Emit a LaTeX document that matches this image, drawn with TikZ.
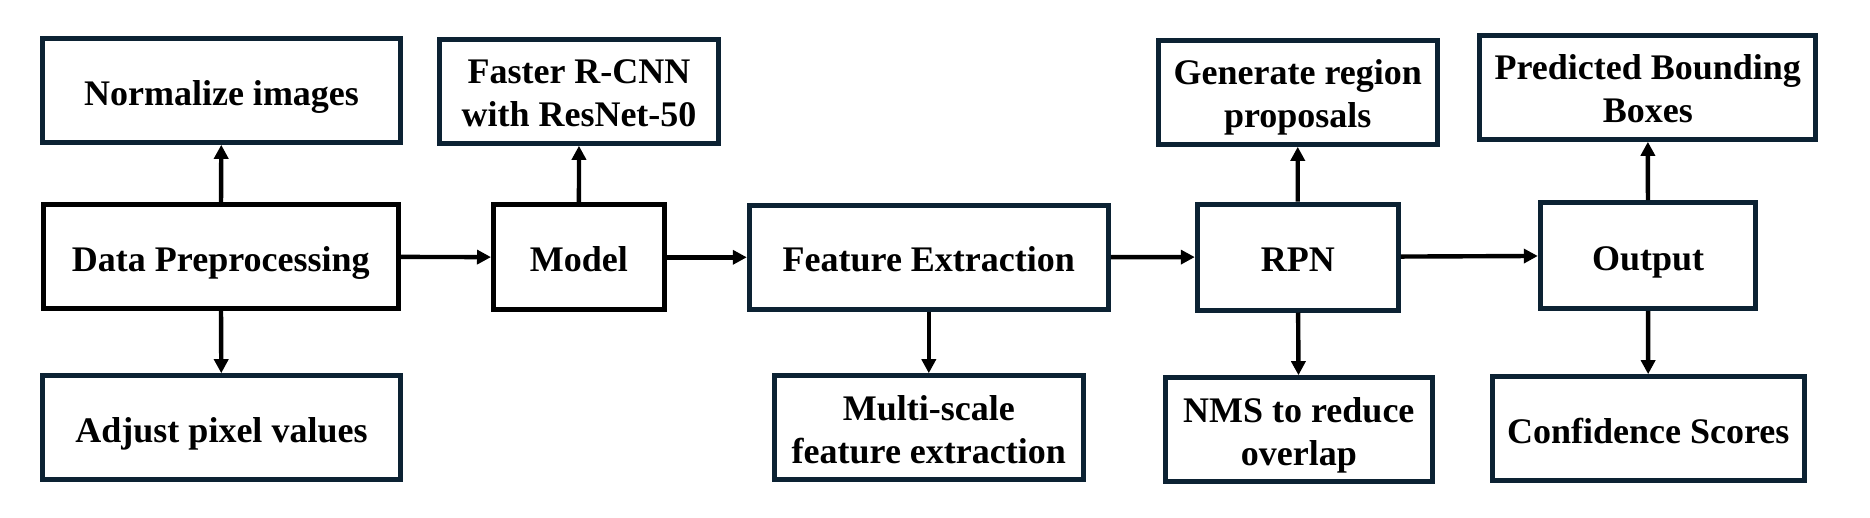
\documentclass[tikz,border=0pt]{standalone}
\usepackage{fontspec}
\setmainfont{Liberation Serif}
\usetikzlibrary{arrows.meta}
\definecolor{navy}{RGB}{12,34,51}
\begin{document}
\begin{tikzpicture}[x=1pt,y=-1pt,
  box/.style={draw=navy, line width=5pt, rectangle, inner sep=0pt, align=center,
    font=\fontsize{36}{43}\selectfont\bfseries, text height=29pt, text depth=0pt},
  mainbox/.style={box, draw=black},
  twoline/.style={text height=71pt, text depth=0pt},
  conn/.style={draw=black, line width=4.4pt, -{Triangle[length=14pt,width=14pt]}}]
\useasboundingbox (0,0) rectangle (1870,517);
\fill[white] (0,0) rectangle (1870,517);
% top row
\node[box, minimum width=358.4pt, minimum height=103.6pt] (norm) at (221.5,90.5) {Normalize images};
\node[box, twoline, minimum width=279.4pt, minimum height=104pt] (faster) at (579,91.3) {Faster R-CNN\\with ResNet-50};
\node[box, twoline, minimum width=279.3pt, minimum height=104pt] (gen) at (1297.7,92.3) {Generate region\\proposals};
\node[box, twoline, minimum width=335.7pt, minimum height=104pt] (pred) at (1647.8,87.3) {Predicted Bounding\\Boxes};
% middle row
\node[mainbox, minimum width=355pt, minimum height=103.6pt] (prep) at (220.8,256.5) {Data Preprocessing};
\node[mainbox, minimum width=170.8pt, minimum height=105.3pt] (model) at (578.9,257.3) {Model};
\node[box, minimum width=359pt, minimum height=104pt] (feat) at (928.8,257.3) {Feature Extraction};
\node[box, minimum width=201pt, minimum height=106pt] (rpn) at (1297.8,257) {RPN};
\node[box, minimum width=215.4pt, minimum height=105.6pt] (out) at (1648,255.5) {Output};
% bottom row
\node[box, minimum width=358.4pt, minimum height=103.6pt] (adj) at (221.5,427.5) {Adjust pixel values};
\node[box, twoline, minimum width=309pt, minimum height=103.6pt] (multi) at (928.8,427.5) {Multi-scale\\feature extraction};
\node[box, twoline, minimum width=267pt, minimum height=104pt] (nms) at (1298.8,429.7) {NMS to reduce\\overlap};
\node[box, minimum width=311.7pt, minimum height=104.3pt] (conf) at (1648.2,428.8) {Confidence Scores};
% connectors
\draw[conn] (prep) -- (model);
\draw[conn] (model) -- (feat);
\draw[conn] (feat) -- (rpn);
\draw[conn] (rpn) -- (out);
\draw[conn] (prep) -- (norm);
\draw[conn] (prep) -- (adj);
\draw[conn] (model) -- (faster);
\draw[conn] (feat) -- (multi);
\draw[conn] (rpn) -- (gen);
\draw[conn] (rpn) -- (nms);
\draw[conn] (out) -- (pred);
\draw[conn] (out) -- (conf);
\end{tikzpicture}
\end{document}
